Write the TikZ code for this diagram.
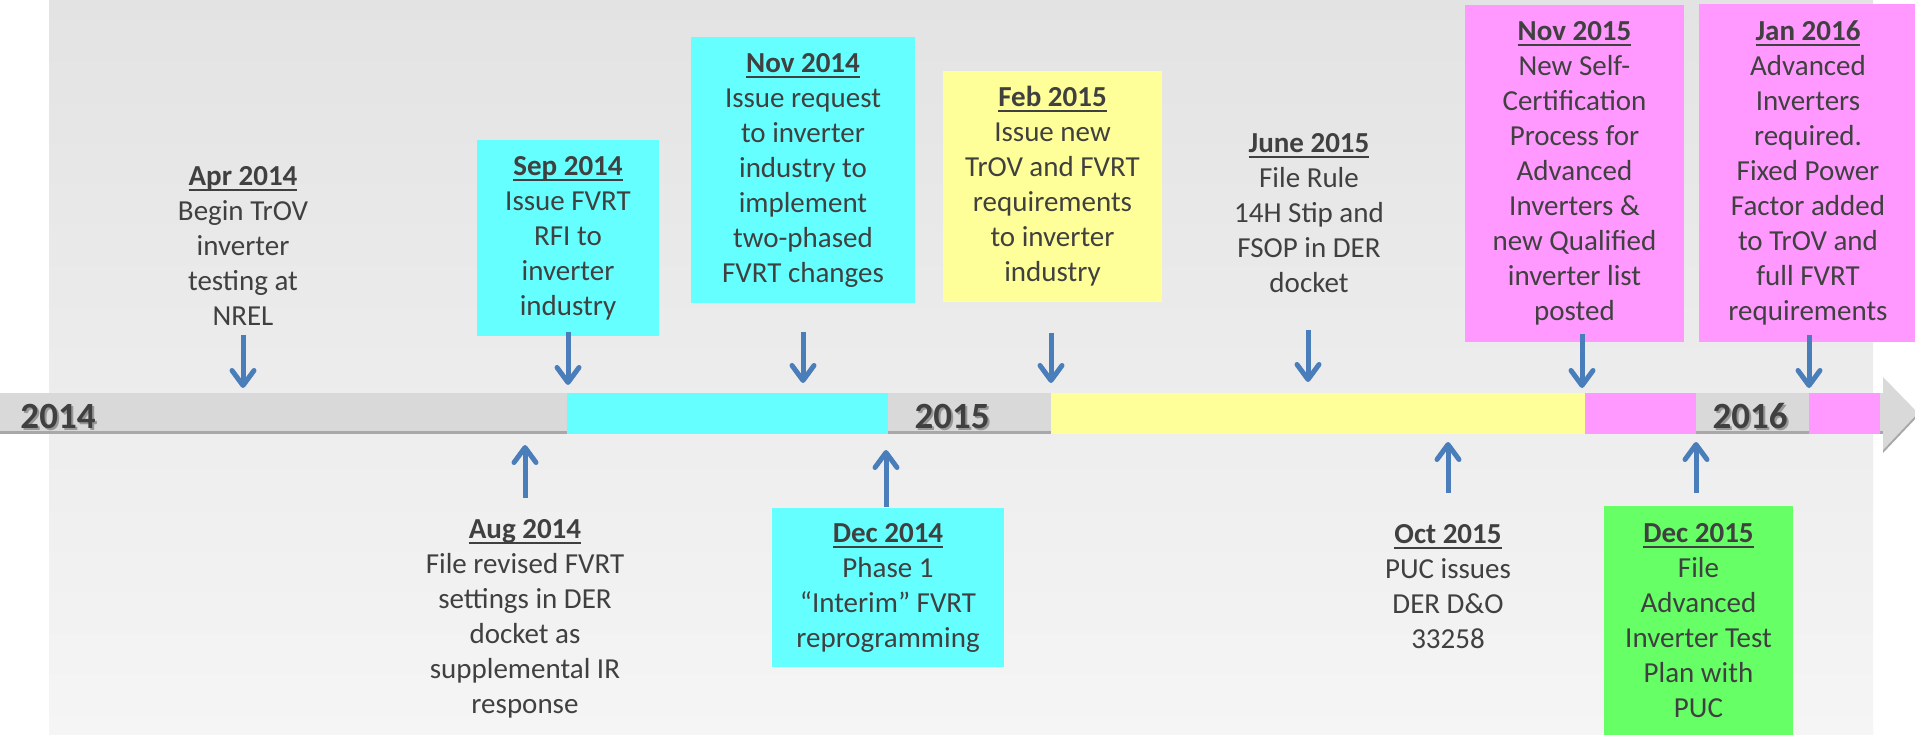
\documentclass[tikz,border=0pt]{standalone}
\usepackage{fontspec}
\setmainfont{Carlito}
\usetikzlibrary{arrows.meta}
\definecolor{txt}{HTML}{404040}
\definecolor{panelTop}{HTML}{E3E3E3}
\definecolor{panelBot}{HTML}{F5F5F5}
\definecolor{bargray}{HTML}{D9D9D9}
\definecolor{barshadow}{HTML}{A8A8A8}
\definecolor{cyanb}{HTML}{66FFFF}
\definecolor{yellowb}{HTML}{FFFF99}
\definecolor{magentab}{HTML}{FF99FF}
\definecolor{greenb}{HTML}{66FF66}
\definecolor{arrowblue}{HTML}{4A7EBB}
\newcommand\ttl[1]{\setbox0\hbox{\bfseries #1}\rlap{\rule[-5.5pt]{\wd0}{2pt}}\box0}
\tikzset{
  ev/.style={font=\fontsize{29}{35}\selectfont, text=txt, align=center, inner sep=0pt},
  evbox/.style={ev, fill=#1},
  yearlbl/.style={font=\fontsize{37}{40}\selectfont\bfseries, text=txt, inner sep=0pt},
  yearshadow/.style={font=\fontsize{37}{40}\selectfont\bfseries, text=black, opacity=0.3, inner sep=0pt},
  evarr/.style={draw=arrowblue, line width=5pt, -{Straight Barb[length=15pt,width=22pt,round]}},
}
\begin{document}
\begin{tikzpicture}[x=1pt,y=-1pt]
\useasboundingbox (0,0) rectangle (1915,735);
\clip (0,0) rectangle (1915,735);
\fill[white] (0,0) rectangle (1915,735);
% background panel
\shade[top color=panelTop, bottom color=panelBot] (49,0) rectangle (1873,735);
% timeline bar with shadow
\fill[barshadow] (0,396) rectangle (1883,434);
\fill[barshadow] (1883,380) -- (1918,416) -- (1883,453) -- cycle;
\fill[bargray] (0,393) rectangle (1883,431);
\fill[bargray] (1883,377) -- (1918,413) -- (1883,450) -- cycle;
% coloured periods
\fill[cyanb] (567,393) rectangle (888,434);
\fill[yellowb] (1051,393) rectangle (1585,434);
\fill[magentab] (1585,393) rectangle (1696,434);
\fill[magentab] (1809,393) rectangle (1880,434);
% year labels
\node[yearshadow] at (60,418) {2014};
\node[yearlbl] (y2014) at (58,416) {2014};
\node[yearshadow] at (954,418) {2015};
\node[yearlbl] (y2015) at (952,416) {2015};
\node[yearshadow] at (1752,418) {2016};
\node[yearlbl] (y2016) at (1750,416) {2016};
% events above
\node[ev] (apr14) at (243,246) {\ttl{Apr 2014}\\Begin TrOV\\inverter\\testing at\\NREL};
\node[evbox=cyanb, minimum width=182pt, minimum height=196pt] (sep14) at (568,238)
  {\ttl{Sep 2014}\\Issue FVRT\\RFI to\\inverter\\industry};
\node[evbox=cyanb, minimum width=224pt, minimum height=266pt] (nov14) at (803,170)
  {\ttl{Nov 2014}\\Issue request\\to inverter\\industry to\\implement\\two-phased\\FVRT changes};
\node[evbox=yellowb, minimum width=219pt, minimum height=231pt] (feb15) at (1052.5,186.5)
  {\ttl{Feb 2015}\\Issue new\\TrOV and FVRT\\requirements\\to inverter\\industry};
\node[ev] (jun15) at (1309,213) {\ttl{June 2015}\\File Rule\\14H Stip and\\FSOP in DER\\docket};
\node[evbox=magentab, minimum width=219pt, minimum height=337pt] (nov15) at (1574.5,173.5)
  {\ttl{Nov 2015}\\New Self-\\Certification\\Process for\\Advanced\\Inverters \&\\new Qualified\\inverter list\\posted};
\node[evbox=magentab, minimum width=218pt, minimum height=338pt] (jan16) at (1808,173)
  {\ttl{Jan 2016}\\Advanced\\Inverters\\required.\\Fixed Power\\Factor added\\to TrOV and\\full FVRT\\requirements};
% events below
\node[ev] (aug14) at (525,619) {\ttl{Aug 2014}\\File revised FVRT\\settings in DER\\docket as\\supplemental IR\\response};
\node[evbox=cyanb, minimum width=232pt, minimum height=159pt] (dec14) at (888,587.5)
  {\ttl{Dec 2014}\\Phase 1\\“Interim” FVRT\\reprogramming};
\node[ev] (oct15) at (1448,586.5) {\ttl{Oct 2015}\\PUC issues\\DER D\&O\\33258};
\node[evbox=greenb, minimum width=189pt, minimum height=230pt] (dec15) at (1698.5,621)
  {\ttl{Dec 2015}\\File\\Advanced\\Inverter Test\\Plan with\\PUC};
% arrow tips on the timeline
\coordinate (apr14T) at (243,388);
\coordinate (sep14T) at (568,385);
\coordinate (nov14T) at (803,383);
\coordinate (feb15T) at (1051,383);
\coordinate (jun15T) at (1308,382);
\coordinate (nov15T) at (1582,388);
\coordinate (jan16T) at (1809,388);
\coordinate (aug14T) at (525,445);
\coordinate (dec14T) at (886,450);
\coordinate (oct15T) at (1448,442);
\coordinate (dec15T) at (1696,442);
% arrows
\draw[evarr, shorten <=9pt] (apr14.south -| apr14T) -- (apr14T);
\draw[evarr, shorten <=-4pt] (sep14.south -| sep14T) -- (sep14T);
\draw[evarr, shorten <=29pt] (nov14.south -| nov14T) -- (nov14T);
\draw[evarr, shorten <=31pt] (feb15.south -| feb15T) -- (feb15T);
\draw[evarr, shorten <=37pt] (jun15.south -| jun15T) -- (jun15T);
\draw[evarr, shorten <=-8pt] (nov15.south -| nov15T) -- (nov15T);
\draw[evarr, shorten <=-7pt] (jan16.south -| jan16T) -- (jan16T);
\draw[evarr, shorten <=21pt] (aug14.north -| aug14T) -- (aug14T);
\draw[evarr, shorten <=1pt] (dec14.north -| dec14T) -- (dec14T);
\draw[evarr, shorten <=31pt] (oct15.north -| oct15T) -- (oct15T);
\draw[evarr, shorten <=13pt] (dec15.north -| dec15T) -- (dec15T);
\end{tikzpicture}
\end{document}
